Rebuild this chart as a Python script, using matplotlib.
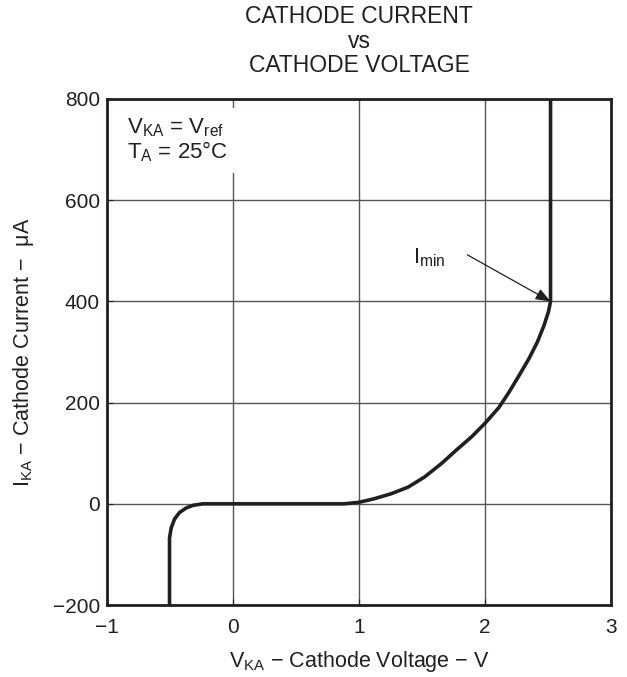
import matplotlib
matplotlib.use("Agg")
import matplotlib.pyplot as plt

plt.rcParams["font.family"] = ["Liberation Sans", "DejaVu Sans"]
plt.rcParams["mathtext.fontset"] = "custom"
plt.rcParams["mathtext.rm"] = "Liberation Sans"
plt.rcParams["mathtext.it"] = "Liberation Sans:italic"

# Curve (V, uA)
v_ka = [-0.504, -0.504, -0.504, -0.49, -0.464, -0.424, -0.37, -0.317, -0.24, -0.2,
        0.0, 0.5, 0.776, 0.88, 1.0, 1.12, 1.256, 1.39, 1.52, 1.656, 1.776,
        1.896, 2.003, 2.109, 2.189, 2.269, 2.349, 2.416, 2.469, 2.504, 2.52, 2.52]
i_ka = [-200, -100, -67, -47, -30, -17, -8, -3, 0, 0,
        0, 0, 0, 0, 3, 10, 20, 33, 53, 80, 107,
        133, 160, 190, 220, 253, 287, 320, 353, 380, 400, 800]

x_ticks = [-1, 0, 1, 2, 3]
x_labels = ["\u22121", "0", "1", "2", "3"]
y_ticks = [-200, 0, 200, 400, 600, 800]
y_labels = ["\u2212200", "0", "200", "400", "600", "800"]

ink = "#231f20"

fig = plt.figure(figsize=(6.27, 6.77), dpi=100)
ax = fig.add_axes([0.1707, 0.1063, 0.8038, 0.7475])

ax.plot(v_ka, i_ka, color=ink, lw=2.6, solid_joinstyle="round", solid_capstyle="butt", zorder=3)

ax.set_xlim(-1, 3)
ax.set_ylim(-200, 800)
ax.set_xticks(x_ticks)
ax.set_yticks(y_ticks)
ax.set_xticklabels(x_labels)
ax.set_yticklabels(y_labels)
ax.tick_params(direction="in", length=4, labelsize=15, colors=ink)
ax.tick_params(axis="x", pad=9)
ax.tick_params(axis="y", pad=5)
ax.grid(True, color="#555555", lw=1.0)
for s in ax.spines.values():
    s.set_linewidth(2.0)
    s.set_color(ink)

ax.set_xlabel("V$_{\\rm KA}$ \u2212 Cathode Voltage \u2212 V", fontsize=15.5, color=ink, labelpad=9)
ax.set_ylabel("I$_{\\rm KA}$ \u2212 Cathode Current \u2212  \u03bcA", fontsize=15.5, color=ink, labelpad=12)

fig.text(0.5726, 0.992, "CATHODE CURRENT\nvs\nCATHODE VOLTAGE", ha="center", va="top",
         fontsize=16.5, color=ink, linespacing=1.08)

ax.text(-0.84, 766, "V$_{\\rm KA}$ = V$_{\\rm ref}$\nT$_{\\rm A}$ = 25\u00b0C", ha="left", va="top",
        fontsize=16, color=ink, linespacing=1.05,
        bbox=dict(facecolor="white", edgecolor="none", pad=6), zorder=4)

ax.annotate("", xy=(2.52, 400), xytext=(1.86, 492),
            arrowprops=dict(arrowstyle="-|>,head_length=0.9,head_width=0.35", color=ink, lw=0.9,
                            shrinkA=0, shrinkB=0), zorder=4)
ax.text(1.43, 486, "I$_{\\rm min}$", ha="left", va="center", fontsize=16, color=ink)

fig.savefig("out.png", dpi=100)
